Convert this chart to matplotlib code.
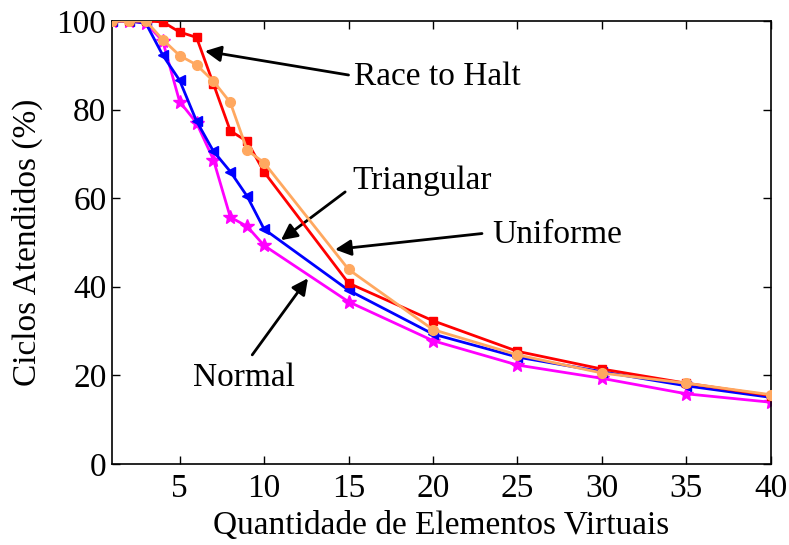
import matplotlib.pyplot as plt

plt.rcParams['font.family'] = ['Liberation Serif', 'DejaVu Serif']

x = [1, 2, 3, 4, 5, 6, 7, 8, 9, 10, 15, 20, 25, 30, 35, 40]
race = [100, 100, 100, 99.8, 97.5, 96.3, 85.8, 75.2, 72.8, 65.9, 40.8, 32.3, 25.4, 21.4, 18.2, 15.4]
uniforme = [100, 100, 100, 95.8, 92.2, 90.1, 86.4, 81.6, 70.8, 68.0, 43.9, 30.3, 24.6, 20.5, 18.2, 15.6]
triangular = [100, 100, 99.5, 92.3, 86.6, 77.4, 70.6, 66.0, 60.4, 53.0, 39.2, 29.3, 24.1, 20.8, 17.6, 15.0]
normal = [100, 100, 99.5, 95.5, 81.8, 77.0, 68.7, 55.7, 53.6, 49.3, 36.6, 27.8, 22.3, 19.3, 15.8, 13.9]

fig = plt.figure(figsize=(7.89, 5.45), dpi=100)
ax = fig.add_axes([0.142, 0.149, 0.835, 0.8125])

ax.plot(x, triangular, color='blue', marker='<', ms=7.5, lw=2, zorder=3)
ax.plot(x, normal, color='magenta', marker='*', ms=10, lw=2, zorder=2)
ax.plot(x, race, color='red', marker='s', ms=6, lw=2, zorder=4)
ax.plot(x, uniforme, color='#FFA860', marker='o', ms=7, lw=2, zorder=5)

ax.set_xlim(1, 40)
ax.set_ylim(0, 100)
ax.set_xticks([5, 10, 15, 20, 25, 30, 35, 40])
ax.set_yticks([0, 20, 40, 60, 80, 100])
ax.tick_params(direction='in', top=True, right=True, labelsize=24, length=6, width=1, pad=4)
ax.tick_params(axis='x', pad=7)
for s in ax.spines.values():
    s.set_linewidth(1.2)

ax.set_xlabel('Quantidade de Elementos Virtuais', fontsize=24, labelpad=5)
ax.set_ylabel('Ciclos Atendidos (%)', fontsize=24, labelpad=10)

ap = dict(arrowstyle='-|>', color='black', lw=2, mutation_scale=24, shrinkA=0, shrinkB=0)
ax.annotate('', xy=(6.5, 93.2), xytext=(15.0, 87.8), arrowprops=ap)
ax.text(15.3, 87.3, 'Race to Halt', fontsize=24, va='center', ha='left')
ax.annotate('', xy=(11.0, 50.5), xytext=(14.8, 61.4), arrowprops=ap)
ax.text(15.2, 64.0, 'Triangular', fontsize=24, va='center', ha='left')
ax.annotate('', xy=(14.2, 48.4), xytext=(22.9, 52.0), arrowprops=ap)
ax.text(23.5, 51.8, 'Uniforme', fontsize=24, va='center', ha='left')
ax.annotate('', xy=(12.6, 41.9), xytext=(9.3, 24.6), arrowprops=ap)
ax.text(8.8, 19.4, 'Normal', fontsize=24, va='center', ha='center')

fig.savefig('out.png', dpi=100)
